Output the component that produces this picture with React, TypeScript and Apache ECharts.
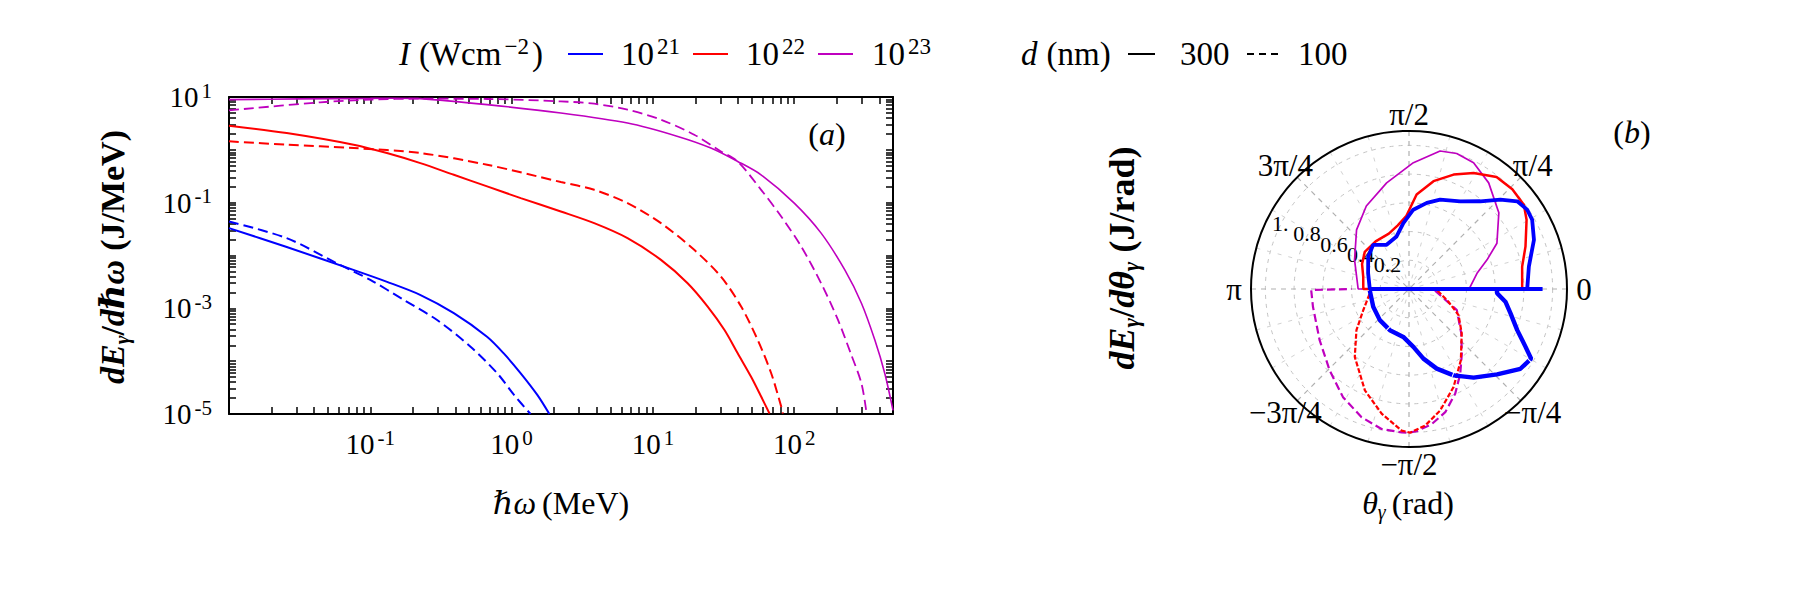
import React, { useEffect, useRef } from 'react';
import * as echarts from 'echarts';

// ---------------- Panel (a): spectra dE/dħω (J/MeV) vs ħω (MeV) ----------------
const B300_X = [0.01, 0.025, 0.075, 0.13, 0.225, 0.39, 0.67, 0.88, 1.16, 1.52, 1.85];
const B300_Y = [0.033, 0.0148, 0.0054, 0.0032, 0.0018, 0.00081, 0.00029, 0.00014, 0.000059, 0.000023, 0.00001];
const B100_X = [0.01, 0.0256, 0.058, 0.1, 0.172, 0.297, 0.512, 0.791, 1.04, 1.36];
const B100_Y = [0.044, 0.0213, 0.0071, 0.00345, 0.00145, 0.0006, 0.000188, 0.000059, 0.000023, 0.00001];
const R300_X = [0.01, 0.0256, 0.0762, 0.131, 0.226, 0.39, 0.671, 1.16, 2.23, 3.84, 6.61, 11.4, 17.6, 24.4, 32.1, 39.8, 49.5, 58.3, 66.8];
const R300_Y = [2.86, 2.08, 1.25, 0.869, 0.561, 0.337, 0.203, 0.122, 0.068, 0.0409, 0.0213, 0.00826, 0.00299, 0.00108, 0.000389, 0.000141, 0.0000507, 0.0000214, 0.0000102];
const R100_X = [0.01, 0.0256, 0.0762, 0.226, 0.671, 2.23, 3.84, 6.61, 11.4, 19.6, 30.3, 42.1, 55.2, 68.7, 80.9, 83.2];
const R100_Y = [1.45, 1.25, 1.08, 0.869, 0.522, 0.246, 0.175, 0.098, 0.0409, 0.0128, 0.00398, 0.00108, 0.000251, 0.000059, 0.0000138, 0.0000102];
const M300_X = [0.01, 0.0316, 0.1, 0.15, 0.226, 0.671, 2.23, 6.61, 15, 25.7, 39.8, 58.2, 100, 155, 228, 299, 372, 437, 500];
const M300_Y = [8.9, 9.2, 9.4, 9.5, 9.3, 7.16, 4.98, 3.21, 1.79, 1.08, 0.603, 0.337, 0.098, 0.0265, 0.00533, 0.00125, 0.000251, 0.000059, 0.0000117];
const M100_X = [0.01, 0.0442, 0.1, 0.226, 0.671, 2.23, 3.84, 6.61, 11.4, 19.6, 30.3, 39.8, 58.3, 80.9, 112, 155, 204, 251, 299, 324];
const M100_Y = [5.58, 7.93, 8.91, 9.29, 9.17, 8.26, 7.46, 5.75, 3.72, 1.93, 0.933, 0.603, 0.175, 0.0546, 0.0148, 0.00299, 0.000603, 0.000141, 0.000038, 0.000011];

const X_MIN = 0.01;
const X_MAX = 500;
const Y_MIN = 0.00001;
const Y_MAX = 10;
const X_LABEL_VALUES = [0.1, 1, 10, 100];
const Y_LABEL_VALUES = [10, 0.1, 0.001, 0.00001];
const MANTISSAS = [1, 2, 3, 4, 5, 6, 7, 8, 9];
const X_DECADES = [0.01, 0.1, 1, 10, 100];
const Y_DECADES = [0.00001, 0.0001, 0.001, 0.01, 0.1, 1, 10];

// ---------------- Panel (b): angular distribution dE/dθ (J/rad) ----------------
// angles in degrees, radii in J/rad (normalised)
const BP300_T = [0, 10.6, 21.5, 29.4, 33.9, 39, 44.4, 50.9, 59.7, 70.8, 78.3, 86.9, 94.9, 103.3, 116.9, 129, 141.5, 158.9, 180, 0];
const BP300_R = [0.823, 0.849, 0.935, 0.984, 0.991, 0.97, 0.89, 0.787, 0.707, 0.659, 0.612, 0.553, 0.461, 0.376, 0.345, 0.396, 0.363, 0.305, 0.273, 0.93];
const BP100_T = [-0.4, -2.8, -7.5, -13.5, -20.8, -26.4, -29.7, -35.6, -44.1, -53.9, -62.7, -70.8, -78.3, -85.7, -96.8, -114.9, -133.1, -153.6, -177.6];
const BP100_R = [0.613, 0.614, 0.677, 0.727, 0.806, 0.906, 0.979, 0.954, 0.854, 0.764, 0.677, 0.587, 0.495, 0.404, 0.336, 0.316, 0.297, 0.278, 0.273];
const RP300_T = [0, 11.2, 20, 30.5, 36.3, 44, 52, 60.9, 68.7, 77.2, 85.4, 92, 100, 110, 125, 140, 152, 165, 180, 0];
const RP300_R = [0.788, 0.803, 0.863, 0.95, 0.992, 1.0, 0.99, 0.925, 0.855, 0.77, 0.66, 0.51, 0.45, 0.41, 0.405, 0.402, 0.37, 0.33, 0.318, 0.788];
const RP100_T = [-3.4, -17.9, -27.8, -40.1, -54, -65.6, -75.6, -83.3, -89.6, -93, -102.4, -113.5, -128.6, -141.9, -155.3, -174, -180];
const RP100_R = [0.2, 0.289, 0.39, 0.48, 0.614, 0.75, 0.873, 0.958, 1.0, 0.987, 0.888, 0.77, 0.605, 0.465, 0.35, 0.274, 0.268];
const MP300_T = [0, 2.2, 13, 20.5, 27.5, 40.3, 53.1, 62.9, 70.6, 77.3, 88, 101.9, 117.2, 131.6, 151.8, 180, 0];
const MP300_R = [0.42, 0.427, 0.486, 0.58, 0.69, 0.82, 0.924, 0.987, 1.0, 0.985, 0.88, 0.755, 0.65, 0.55, 0.43, 0.354, 0.42];
const MP100_T = [-3.7, -23.8, -40.2, -50.7, -58.8, -66.2, -73.6, -80.4, -86.9, -90.3, -92.9, -101.1, -110.3, -121.4, -134.3, -150.2, -169.5, -179.4, 180];
const MP100_R = [0.182, 0.364, 0.476, 0.581, 0.689, 0.797, 0.894, 0.953, 0.992, 1.0, 1.0, 0.993, 0.952, 0.882, 0.791, 0.717, 0.68, 0.681, 0.4];

const ANGLE_VALUES = [-135, -90, -45, 0, 45, 90, 135, 180];
const ANGLE_TEXT = ['−3π/4', '−π/2', '−π/4', '0', 'π/4', 'π/2', '3π/4', 'π'];
const R_LABEL_VALUES = [0.2, 0.4, 0.6, 0.8, 1.0];
const R_LABEL_TEXT = ['0.2', '0.4', '0.6', '0.8', '1.'];
const R_MAX = 1.1;

// legend
const I_EXPONENTS = ['21', '22', '23'];
const I_COLORS = ['#0000ff', '#ff0000', '#bf00bf'];
const D_VALUES = ['300', '100'];

const FONT = "'Liberation Serif', 'DejaVu Serif', serif";
const BLUE = I_COLORS[0];
const RED = I_COLORS[1];
const MAG = I_COLORS[2];

// layout of the polar panel
const P_CX = 1409;
const P_CY = 289;
const P_RADIUS = 158;
const ANGLE_LABEL_GAP = 17;

function buildTicks(decades: number[], lo: number, hi: number): number[] {
  const out: number[] = [];
  decades.forEach((d) => MANTISSAS.forEach((m) => {
    const v = +(m * d).toPrecision(6);
    if (v >= lo * 0.9999 && v <= hi * 1.0001) out.push(v);
  }));
  return out;
}
const X_TICKS = buildTicks(X_DECADES, X_MIN, X_MAX);
const Y_TICKS = buildTicks(Y_DECADES, Y_MIN, Y_MAX);

const TICK_RICH = {
  b: { fontSize: 29, fontFamily: FONT, color: '#000', lineHeight: 34 },
  g: { fontSize: 29, fontFamily: FONT, color: '#000', lineHeight: 34, width: 3 },
  s: { fontSize: 21, fontFamily: FONT, color: '#000', lineHeight: 20, verticalAlign: 'top' },
};

function powFmt(list: number[]) {
  return (v: number) => {
    const ok = list.some((l) => Math.abs(Math.log10(l) - Math.log10(v)) < 1e-6);
    if (!ok) return '';
    const e = Math.round(Math.log10(v));
    return `{b|10}{g|}{s|${e}}`;
  };
}

function pairsXY(xs: number[], ys: number[]) {
  return xs.map((x, i) => [x, ys[i]]);
}
function pairsRT(rs: number[], ts: number[]) {
  return rs.map((r, i) => [r, ts[i]]);
}

function cartLine(name: string, xs: number[], ys: number[], color: string, dashed: boolean, width: number) {
  return {
    name, type: 'line', xAxisIndex: 0, yAxisIndex: 0,
    data: pairsXY(xs, ys), showSymbol: false, symbol: 'none', smooth: 0.3,
    lineStyle: { color, width, type: dashed ? [10, 5] : 'solid' },
  };
}
function polarLine(name: string, rs: number[], ts: number[], color: string, dash: any, width: number, z: number) {
  return {
    name, type: 'line', coordinateSystem: 'polar', polarIndex: 0,
    data: pairsRT(rs, ts), showSymbol: false, symbol: 'none', z,
    lineStyle: { color, width, type: dash },
  };
}

const LEG_RICH = {
  n: { fontSize: 33, fontFamily: FONT, color: '#000', lineHeight: 38 },
  it: { fontSize: 33, fontFamily: FONT, fontStyle: 'italic', color: '#000', lineHeight: 38 },
  sp: { fontSize: 33, fontFamily: FONT, color: '#000', lineHeight: 38, width: 9 },
  g: { fontSize: 33, fontFamily: FONT, color: '#000', lineHeight: 38, width: 3 },
  s: { fontSize: 23, fontFamily: FONT, color: '#000', lineHeight: 22, verticalAlign: 'top' },
};
function titleRich(size: number) {
  const sub = Math.round(size * 0.63);
  return {
    n: { fontSize: size, fontFamily: FONT, color: '#000', lineHeight: size + 6 },
    it: { fontSize: size, fontFamily: FONT, fontStyle: 'italic', color: '#000', lineHeight: size + 6 },
    sp: { fontSize: size, fontFamily: FONT, color: '#000', lineHeight: size + 6, width: 6 },
    sub: { fontSize: sub, fontFamily: FONT, fontStyle: 'italic', color: '#000', lineHeight: 16, verticalAlign: 'bottom' },
    bi: { fontSize: size, fontFamily: FONT, fontStyle: 'italic', fontWeight: 'bold', color: '#000', lineHeight: size + 6 },
    bsub: { fontSize: sub, fontFamily: FONT, fontStyle: 'italic', fontWeight: 'bold', color: '#000', lineHeight: 16, verticalAlign: 'bottom' },
    b: { fontSize: size, fontFamily: FONT, fontWeight: 'bold', color: '#000', lineHeight: size + 6 },
    bsp: { fontSize: size, fontFamily: FONT, color: '#000', lineHeight: size + 6, width: 9 },
  };
}
const TITLE_RICH = titleRich(32);
const YT_RICH_A = titleRich(34);
const YT_RICH_B = titleRich(36);

function txt(x: number, y: number, text: string, rich: any, align = 'left', rotation = 0) {
  return { type: 'text', x, y, rotation, style: { text, rich, align, verticalAlign: 'middle', fill: '#000' } };
}

const LEG_Y = 54;
const legendElements: any[] = [
  txt(399, LEG_Y, '{it|I}{sp|}{n|(Wcm}{g|}{s|−2}{g|}{n|)}', LEG_RICH),
];
const I_LINE_X = [568, 693, 818];
const I_TEXT_X = [621, 746, 872];
I_EXPONENTS.forEach((e, i) => {
  legendElements.push({ type: 'line', shape: { x1: I_LINE_X[i], y1: LEG_Y, x2: I_LINE_X[i] + 35, y2: LEG_Y }, style: { stroke: I_COLORS[i], lineWidth: 2 } });
  legendElements.push(txt(I_TEXT_X[i], LEG_Y, `{n|10}{g|}{s|${e}}`, LEG_RICH));
});
legendElements.push(txt(1021, LEG_Y, '{it|d}{sp|}{n|(nm)}', LEG_RICH));
legendElements.push({ type: 'line', shape: { x1: 1128, y1: LEG_Y, x2: 1155, y2: LEG_Y }, style: { stroke: '#000', lineWidth: 2 } });
legendElements.push(txt(1180, LEG_Y, `{n|${D_VALUES[0]}}`, LEG_RICH));
legendElements.push({ type: 'line', shape: { x1: 1247, y1: LEG_Y, x2: 1279, y2: LEG_Y }, style: { stroke: '#000', lineWidth: 2, lineDash: [7, 5] } });
legendElements.push(txt(1298, LEG_Y, `{n|${D_VALUES[1]}}`, LEG_RICH));

const titleElements: any[] = [
  txt(827, 134, '{n|(}{it|a}{n|)}', TITLE_RICH, 'center'),
  txt(1632, 132, '{n|(}{it|b}{n|)}', TITLE_RICH, 'center'),
  txt(561, 503, '{it|ℏω}{sp|}{n|(MeV)}', TITLE_RICH, 'center'),
  txt(1408, 503, '{it|θ}{sub|γ}{sp|}{n|(rad)}', TITLE_RICH, 'center'),
  txt(112, 257, '{bi|dE}{bsub|γ}{b|/}{bi|dℏω}{bsp|}{b|(J/MeV)}', YT_RICH_A, 'center', Math.PI / 2),
  txt(1122, 258, '{bi|dE}{bsub|γ}{b|/}{bi|dθ}{bsub|γ}{bsp|}{b|(J/rad)}', YT_RICH_B, 'center', Math.PI / 2),
];

function cartAxis(kind: 'x' | 'y', position: string, labels: boolean) {
  const isX = kind === 'x';
  return {
    type: 'log', logBase: 10, gridIndex: 0, position,
    min: isX ? X_MIN : Y_MIN, max: isX ? X_MAX : Y_MAX,
    axisLine: { show: true, onZero: false, lineStyle: { color: '#000', width: 2 } },
    axisTick: { show: true, inside: true, length: 7, customValues: isX ? X_TICKS : Y_TICKS, lineStyle: { color: '#000', width: 1.5 } },
    axisLabel: labels
      ? { show: true, customValues: isX ? X_LABEL_VALUES : Y_LABEL_VALUES, margin: isX ? 13 : 17, formatter: powFmt(isX ? X_LABEL_VALUES : Y_LABEL_VALUES), rich: TICK_RICH }
      : { show: false },
    splitLine: { show: false },
    minorTick: { show: false },
    minorSplitLine: { show: false },
  };
}

const option: any = {
  animation: false,
  backgroundColor: '#ffffff',
  textStyle: { fontFamily: FONT },
  grid: [{ left: 229, top: 97, width: 664, height: 317, show: false, containLabel: false }],
  xAxis: [cartAxis('x', 'bottom', true), cartAxis('x', 'top', false)],
  yAxis: [cartAxis('y', 'left', true), cartAxis('y', 'right', false)],
  polar: [
    { center: [P_CX, P_CY], radius: P_RADIUS },
    { center: [P_CX, P_CY], radius: P_RADIUS },
  ],
  angleAxis: [
    {
      polarIndex: 0, type: 'value', min: -180, max: 180, startAngle: 180, clockwise: false, interval: 45,
      axisLine: { show: true, lineStyle: { color: '#000', width: 2 } },
      axisTick: { show: false },
      axisLabel: { show: false },
      splitLine: { show: true, lineStyle: { color: '#b0b0b0', width: 1.2, type: [5, 5] } },
      minorTick: { show: false, splitNumber: 3 },
      minorSplitLine: { show: true, lineStyle: { color: '#d2d2d2', width: 1, type: [4, 7] } },
    },
    { polarIndex: 1, type: 'value', min: 0, max: 360, startAngle: 159, show: false },
  ],
  radiusAxis: [
    {
      polarIndex: 0, type: 'value', min: 0, max: R_MAX, interval: 0.2,
      axisLine: { show: false }, axisTick: { show: false }, axisLabel: { show: false },
      splitLine: { show: true, lineStyle: { color: '#c4c4c4', width: 1, type: [4, 5] } },
    },
    {
      polarIndex: 1, type: 'value', min: 0, max: R_MAX, interval: 0.2,
      axisLine: { show: false }, axisTick: { show: false }, splitLine: { show: false },
      axisLabel: {
        show: true, fontSize: 22, color: '#000', fontFamily: FONT, margin: -15,
        align: 'center', verticalAlign: 'middle',
        formatter: (v: number) => {
          const i = R_LABEL_VALUES.findIndex((l) => Math.abs(l - v) < 1e-6);
          return i >= 0 ? R_LABEL_TEXT[i] : '';
        },
      },
    },
  ],
  series: [
    cartLine('1e21 300nm', B300_X, B300_Y, BLUE, false, 2),
    cartLine('1e21 100nm', B100_X, B100_Y, BLUE, true, 2),
    cartLine('1e22 300nm', R300_X, R300_Y, RED, false, 2),
    cartLine('1e22 100nm', R100_X, R100_Y, RED, true, 2),
    cartLine('1e23 300nm', M300_X, M300_Y, MAG, false, 1.6),
    cartLine('1e23 100nm', M100_X, M100_Y, MAG, true, 1.8),
    polarLine('p 1e23 300nm', MP300_R, MP300_T, MAG, 'solid', 1.7, 3),
    polarLine('p 1e23 100nm', MP100_R, MP100_T, MAG, [8, 4], 2.2, 3),
    polarLine('p 1e22 300nm', RP300_R, RP300_T, RED, 'solid', 2.5, 4),
    polarLine('p 1e22 100nm', RP100_R, RP100_T, RED, [5, 2], 2.2, 4),
    polarLine('p 1e21 300nm', BP300_R, BP300_T, BLUE, 'solid', 3.8, 5),
    polarLine('p 1e21 100nm', BP100_R, BP100_T, BLUE, [80, 1], 4.4, 5),
  ],
};

export default function App() {
  const ref = useRef<HTMLDivElement>(null);
  useEffect(() => {
    if (!ref.current) return;
    const chart = echarts.init(ref.current, null, { renderer: 'svg' });
    chart.setOption(option);
    // angle tick labels, centred just outside the frame circle (Mathematica style)
    const rLabel = R_MAX * (P_RADIUS + ANGLE_LABEL_GAP) / P_RADIUS;
    const angleEls = ANGLE_VALUES.map((a, i) => {
      let p: any = null;
      try {
        p = chart.convertToPixel({ polarIndex: 0 } as any, [rLabel, a]);
      } catch (e) {
        p = null;
      }
      if (!p || !isFinite(p[0]) || !isFinite(p[1])) {
        const rad = (a * Math.PI) / 180;
        p = [P_CX + (P_RADIUS + ANGLE_LABEL_GAP) * Math.cos(rad), P_CY - (P_RADIUS + ANGLE_LABEL_GAP) * Math.sin(rad)];
      }
      return {
        type: 'text', x: p[0], y: p[1],
        style: { text: ANGLE_TEXT[i], fontSize: 31, fontFamily: FONT, fill: '#000', align: 'center', verticalAlign: 'middle' },
      };
    });
    chart.setOption({ graphic: { elements: [...legendElements, ...titleElements, ...angleEls] } });
    return () => chart.dispose();
  }, []);
  return (
    <div
      ref={ref}
      style={{ position: 'fixed', left: 0, top: 0, width: 1800, height: 600, background: '#ffffff' }}
    />
  );
}
